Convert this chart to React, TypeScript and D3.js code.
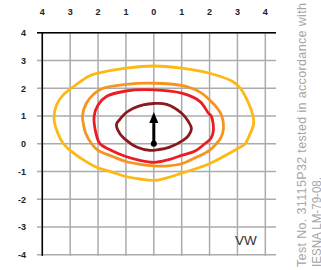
import React from "react";
import * as d3 from "d3";

const xTicks = [-4, -3, -2, -1, 0, 1, 2, 3, 4];
const yTicks = [4, 3, 2, 1, 0, -1, -2, -3, -4];

const yellowCurve: [number, number][] = [
  [0, 2.8], [1, 2.72], [2, 2.54], [2.83, 2.24], [3.1, 2], [3.4, 1.46], [3.56, 1], [3.58, 0.7],
  [3.45, 0.35], [3.28, 0], [3, -0.18], [2.5, -0.46], [2, -0.72], [1.5, -0.9], [1, -1.06],
  [0.5, -1.22], [0, -1.32], [-0.5, -1.27], [-1, -1.18], [-1.5, -1.02], [-2, -0.87],
  [-2.5, -0.6], [-3, -0.24], [-3.24, 0], [-3.45, 0.4], [-3.58, 0.9], [-3.49, 1.4],
  [-3.25, 1.76], [-2.96, 2], [-2.3, 2.45], [-2, 2.54], [-1, 2.72],
];
const orangeCurve: [number, number][] = [
  [0, 2.18], [1, 2.1], [1.66, 1.86], [2, 1.58], [2.3, 1.25], [2.44, 1], [2.5, 0.55], [2.4, 0.2],
  [2.24, 0], [2, -0.24], [1.5, -0.5], [1, -0.72], [0.5, -0.8], [0, -0.8], [-0.5, -0.74],
  [-1, -0.64], [-1.5, -0.45], [-2, -0.24], [-2.23, 0], [-2.45, 0.4], [-2.53, 0.74],
  [-2.56, 1], [-2.42, 1.46], [-2.12, 1.82], [-1.82, 2], [-1, 2.14],
];
const redCurve: [number, number][] = [
  [0, 1.94], [1, 1.82], [1.66, 1.52], [1.96, 1.1], [2.06, 1], [2.14, 0.5], [2.05, 0.2],
  [1.83, 0], [1.5, -0.25], [1, -0.42], [0.5, -0.58], [0, -0.67], [-0.5, -0.6], [-1, -0.46],
  [-1.5, -0.25], [-1.93, 0], [-2.08, 0.4], [-2.14, 1], [-2, 1.4], [-1.7, 1.7], [-1, 1.9],
];
const darkRedCurve: [number, number][] = [
  [0, 1.45], [0.46, 1.42], [1, 1.1], [1.24, 0.8], [1.35, 0.55], [1.25, 0.3], [1.05, 0.12],
  [0.57, -0.12], [0.1, -0.22], [-0.14, -0.24], [-0.62, -0.12], [-0.98, 0.12], [-1.22, 0.37],
  [-1.34, 0.7], [-1.2, 0.9], [-1.02, 1.1], [-0.73, 1.28], [-0.38, 1.4],
];
const curveColors = ["#FDB913", "#F7941D", "#ED1C24", "#8B1A1E"];
const arrowTip = 1.14;

export default function App() {
  const x = d3.scaleLinear().domain([-4, 4]).range([42.3, 265.3]);
  const y = d3.scaleLinear().domain([-4, 4]).range([254.8, 32.7]);
  const line = d3
    .line<[number, number]>()
    .x((d) => x(d[0]))
    .y((d) => y(d[1]))
    .curve(d3.curveCatmullRomClosed.alpha(0.5));
  const curves = [yellowCurve, orangeCurve, redCurve, darkRedCurve];
  const labelFont = "'Liberation Sans', Arial, sans-serif";
  const headBase = y(arrowTip) + 11;
  return (
    <svg
      width={321}
      height={270}
      style={{ position: "fixed", left: 0, top: 0, background: "#fff" }}
    >
      <rect width={321} height={270} fill="#fff" />
      {xTicks.map((t) => (
        <line key={"v" + t} x1={x(t)} x2={x(t)} y1={y(4)} y2={y(-4) + 1} stroke="#ababab" strokeWidth={1.5} />
      ))}
      {yTicks.map((t) => (
        <line key={"h" + t} x1={37} x2={276} y1={y(t)} y2={y(t)} stroke="#ababab" strokeWidth={1.5} />
      ))}
      <line x1={37} x2={276} y1={y(4)} y2={y(4)} stroke="#000" strokeWidth={1.5} />
      <line x1={x(-4)} x2={x(-4)} y1={y(4)} y2={y(-4) + 1} stroke="#000" strokeWidth={1.5} />
      {xTicks.map((t) => (
        <text key={"xl" + t} x={x(t)} y={14.5} textAnchor="middle" fontFamily={labelFont} fontWeight="bold" fontSize={9} fill="#222">
          {Math.abs(t)}
        </text>
      ))}
      {yTicks.map((t) => (
        <text key={"yl" + t} x={26} y={y(t) + 3.3} textAnchor="end" fontFamily={labelFont} fontWeight="bold" fontSize={9} fill="#222">
          {t}
        </text>
      ))}
      {curves.map((c, i) => (
        <path key={"c" + i} d={line(c) || ""} fill="none" stroke={curveColors[i]} strokeWidth={2.8} strokeLinejoin="round" />
      ))}
      <line x1={x(0)} x2={x(0)} y1={y(0)} y2={headBase} stroke="#000" strokeWidth={3} />
      <path
        d={`M${x(0)},${y(arrowTip)} L${x(0) + 4.5},${headBase} L${x(0) - 4.5},${headBase} Z`}
        fill="#000"
      />
      <circle cx={x(0)} cy={y(0)} r={3} fill="#000" />
      <text x={235} y={245} fontFamily={labelFont} fontSize={13.5} fill="#333">
        VW
      </text>
      <g transform="translate(306,267) rotate(-90)">
        <text x={0} y={0} fontFamily={labelFont} fontSize={12.5} fill="#a6a6a6" textLength={264} lengthAdjust="spacing">
          Test No. 31115P32 tested in accordance with
        </text>
      </g>
      <g transform="translate(320.5,267) rotate(-90)">
        <text x={0} y={0} fontFamily={labelFont} fontSize={12.5} fill="#a6a6a6" textLength={90} lengthAdjust="spacingAndGlyphs">
          IESNA LM-79-08.
        </text>
      </g>
    </svg>
  );
}
